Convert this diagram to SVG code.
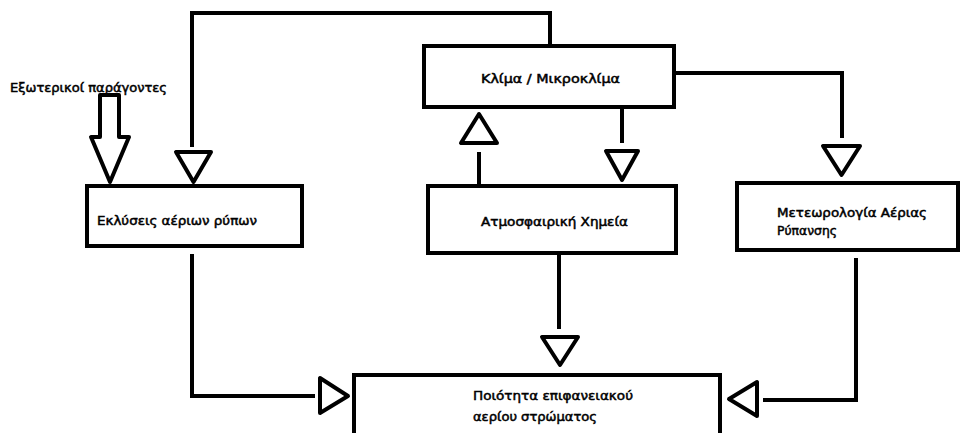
<svg xmlns="http://www.w3.org/2000/svg" width="960" height="433" viewBox="0 0 960 433">
<style>
.box{fill:#fff;stroke:#000;stroke-width:4}
.ln{fill:none;stroke:#000;stroke-width:4;stroke-linejoin:miter}
.tri{fill:#fff;stroke:#000;stroke-width:4;stroke-linejoin:round}
.t{font-family:"DejaVu Sans","Noto Sans",sans-serif;font-size:12.5px;fill:#000;stroke:#000;stroke-width:0.5}
</style>
<rect width="960" height="433" fill="#fff"/>
<g id="connectors">
<path class="ln" d="M550,46 V13 H192 V147"/>
<polygon class="tri" points="176,152 211,152 193.5,182"/>
<polygon class="tri" points="100,95 119,95 119,137 129,137 110,182 91,137 100,137"/>
<path class="ln" d="M479,186 V152"/>
<polygon class="tri" points="461,143 497,143 479,114"/>
<path class="ln" d="M622,107 V143"/>
<polygon class="tri" points="606,151 638,151 622,180"/>
<path class="ln" d="M674,73 H842 V138"/>
<polygon class="tri" points="823,146 860,146 841.5,175"/>
<path class="ln" d="M192,254 V396 H315"/>
<polygon class="tri" points="320,378 320,413 348,396"/>
<path class="ln" d="M559,253 V329"/>
<polygon class="tri" points="542,337 578,337 560,365"/>
<path class="ln" d="M856,258 V400 H763"/>
<polygon class="tri" points="757,382 757,416 729,399"/>
</g>
<g id="ext"><text class="t" x="10" y="92" textLength="157" lengthAdjust="spacingAndGlyphs">Εξωτερικοί παράγοντες</text></g>
<g id="n1"><rect class="box" x="87" y="186" width="215" height="60"/><text class="t" x="97" y="225" textLength="160" lengthAdjust="spacingAndGlyphs">Εκλύσεις αέριων ρύπων</text></g>
<g id="n2"><rect class="box" x="424" y="46" width="250" height="61"/><text class="t" x="481" y="83" textLength="139" lengthAdjust="spacingAndGlyphs">Κλίμα / Μικροκλίμα</text></g>
<g id="n3"><rect class="box" x="428" y="186" width="248" height="67"/><text class="t" x="481" y="226" textLength="147" lengthAdjust="spacingAndGlyphs">Ατμοσφαιρική Χημεία</text></g>
<g id="n4"><rect class="box" x="737" y="183" width="221" height="67"/><text class="t" x="777" y="217" textLength="150" lengthAdjust="spacingAndGlyphs">Μετεωρολογία Αέριας</text><text class="t" x="777" y="235" textLength="60" lengthAdjust="spacingAndGlyphs">Ρύπανσης</text></g>
<g id="n5"><rect class="box" x="354" y="375" width="366" height="70"/><text class="t" x="473" y="400" textLength="160" lengthAdjust="spacingAndGlyphs">Ποιότητα επιφανειακού</text><text class="t" x="473" y="421" textLength="124" lengthAdjust="spacingAndGlyphs">αερίου στρώματος</text></g>
</svg>
